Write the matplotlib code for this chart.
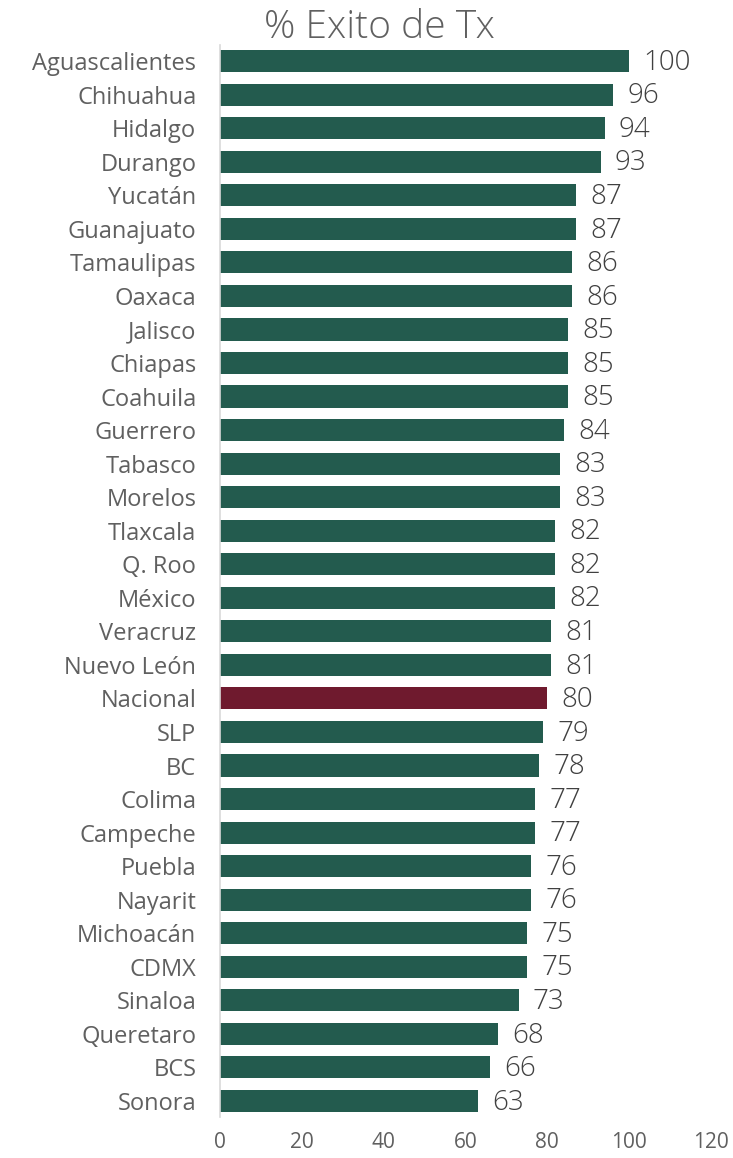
import matplotlib.pyplot as plt

states = ["Aguascalientes", "Chihuahua", "Hidalgo", "Durango", "Yucatán", "Guanajuato",
          "Tamaulipas", "Oaxaca", "Jalisco", "Chiapas", "Coahuila", "Guerrero", "Tabasco",
          "Morelos", "Tlaxcala", "Q. Roo", "México", "Veracruz", "Nuevo León", "Nacional",
          "SLP", "BC", "Colima", "Campeche", "Puebla", "Nayarit", "Michoacán", "CDMX",
          "Sinaloa", "Queretaro", "BCS", "Sonora"]
exito = [100, 96, 94, 93, 87, 87, 86, 86, 85, 85, 85, 84, 83, 83, 82, 82, 82, 81, 81, 80,
         79, 78, 77, 77, 76, 76, 75, 75, 73, 68, 66, 63]
xticks = [0, 20, 40, 60, 80, 100, 120]

GREEN = "#235B4E"
MAROON = "#6F1A2E"
TEXT = "#606060"

plt.rcParams['font.family'] = ['Open Sans', 'DejaVu Sans']

fig = plt.figure(figsize=(7.33, 11.58), dpi=100)
ax = fig.add_axes([0.300, 0.0354, 0.670, 0.9257])

pos = list(range(len(states)))
colors = [MAROON if s == "Nacional" else GREEN for s in states]
ax.barh(pos, exito, height=0.66, color=colors)

for p, v in zip(pos, exito):
    ax.text(v + 3.5, p + 0.05, str(v), va='center', ha='left', fontsize=20,
            color="#404040", fontweight='light')

ax.set_ylim(len(states) - 0.52, -0.48)
ax.set_xlim(0, 120)
ax.set_yticks(pos)
ax.set_yticklabels(states, fontsize=17, color=TEXT)
ax.set_xticks(xticks)
ax.set_xticklabels([str(t) for t in xticks], fontsize=15, color=TEXT)
ax.tick_params(axis='both', length=0)
ax.tick_params(axis='y', pad=17)
ax.tick_params(axis='x', pad=11)

for s in ["top", "right", "bottom"]:
    ax.spines[s].set_visible(False)
ax.spines["left"].set_color("#d9d9d9")
ax.spines["left"].set_linewidth(1.2)

fig.text(0.517, 0.976, "% Exito de Tx", ha='center', va='center', fontsize=28,
         color=TEXT, fontweight='light')

fig.savefig("out.png", dpi=100)
